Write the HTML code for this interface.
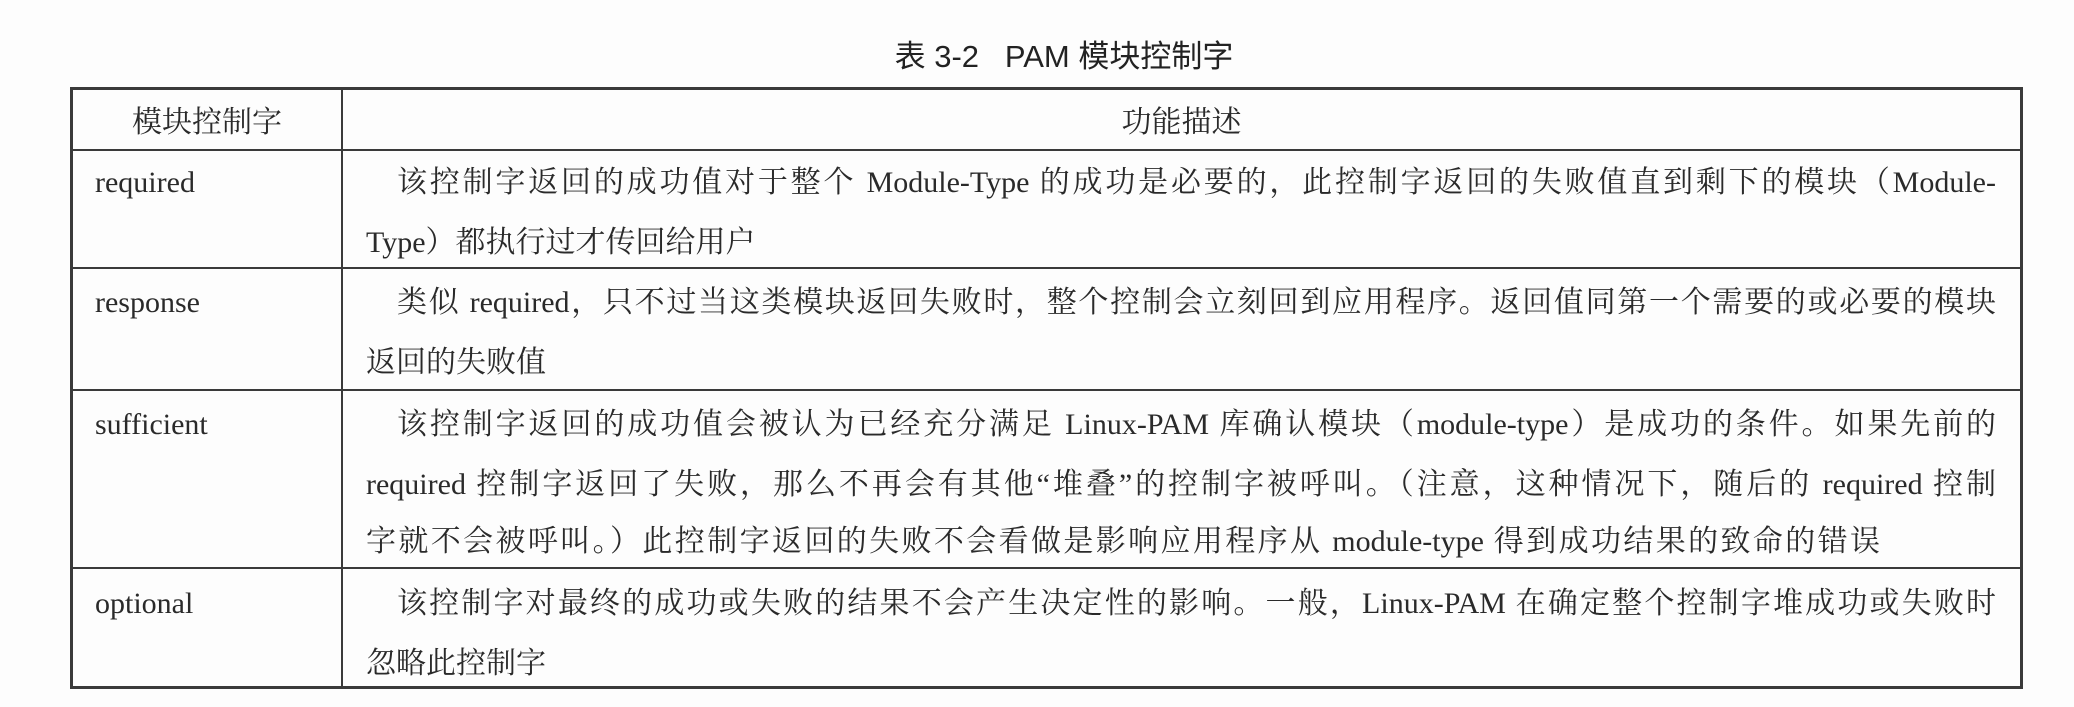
<!DOCTYPE html>
<html><head><meta charset="utf-8"><style>
html,body{margin:0;padding:0;background:#fdfdfd;}
body{width:2074px;height:707px;position:relative;overflow:hidden;color:#2a2a2a;font-family:"Liberation Serif","Noto Serif CJK SC",serif;font-size:30px;}
.t{position:absolute;white-space:nowrap;line-height:36px;}
.j{text-align:justify;text-align-last:justify;white-space:normal;}
.h{position:absolute;background:#3a3a3a;}
.title{position:absolute;left:0;width:2128px;top:38px;text-align:center;font-family:"Liberation Sans","Noto Sans CJK SC",sans-serif;font-size:31px;color:#222;line-height:38px;}
</style></head><body>
<div class="title">表 3-2&nbsp;&nbsp;&nbsp;PAM 模块控制字</div>
<!-- borders -->
<div class="h" style="left:70px;top:87px;width:1953px;height:3px"></div>
<div class="h" style="left:70px;top:686px;width:1953px;height:3px"></div>
<div class="h" style="left:70px;top:87px;width:3px;height:602px"></div>
<div class="h" style="left:2020px;top:87px;width:3px;height:602px"></div>
<div class="h" style="left:341px;top:87px;width:2px;height:602px"></div>
<div class="h" style="left:70px;top:149px;width:1953px;height:2px"></div>
<div class="h" style="left:70px;top:267px;width:1953px;height:2px"></div>
<div class="h" style="left:70px;top:389px;width:1953px;height:2px"></div>
<div class="h" style="left:70px;top:567px;width:1953px;height:2px"></div>
<!-- header -->
<div class="t" style="left:73px;width:268px;top:105px;text-align:center">模块控制字</div>
<div class="t" style="left:343px;width:1677px;top:105px;text-align:center">功能描述</div>
<!-- col1 -->
<div class="t" style="left:95px;top:165px">required</div>
<div class="t" style="left:95px;top:285px">response</div>
<div class="t" style="left:95px;top:407px">sufficient</div>
<div class="t" style="left:95px;top:586px">optional</div>
<!-- required -->
<div class="t j" style="left:397px;width:1599px;top:165px">该控制字返回的成功值对于整个 Module-Type 的成功是必要的，此控制字返回的失败值直到剩下的模块（Module-</div>
<div class="t" style="left:366px;top:225px">Type）都执行过才传回给用户</div>
<!-- response -->
<div class="t j" style="left:397px;width:1599px;top:285px">类似 required，只不过当这类模块返回失败时，整个控制会立刻回到应用程序。返回值同第一个需要的或必要的模块</div>
<div class="t" style="left:366px;top:345px">返回的失败值</div>
<!-- sufficient -->
<div class="t j" style="left:397px;width:1599px;top:407px">该控制字返回的成功值会被认为已经充分满足 Linux-PAM 库确认模块（module-type）是成功的条件。如果先前的</div>
<div class="t j" style="left:366px;width:1630px;top:467px">required 控制字返回了失败，那么不再会有其他“堆叠”的控制字被呼叫。（注意，这种情况下，随后的 required 控制</div>
<div class="t j" style="left:366px;width:1514px;top:524px">字就不会被呼叫。）此控制字返回的失败不会看做是影响应用程序从 module-type 得到成功结果的致命的错误</div>
<!-- optional -->
<div class="t j" style="left:397px;width:1599px;top:586px">该控制字对最终的成功或失败的结果不会产生决定性的影响。一般，Linux-PAM 在确定整个控制字堆成功或失败时</div>
<div class="t" style="left:366px;top:646px">忽略此控制字</div>
</body></html>
